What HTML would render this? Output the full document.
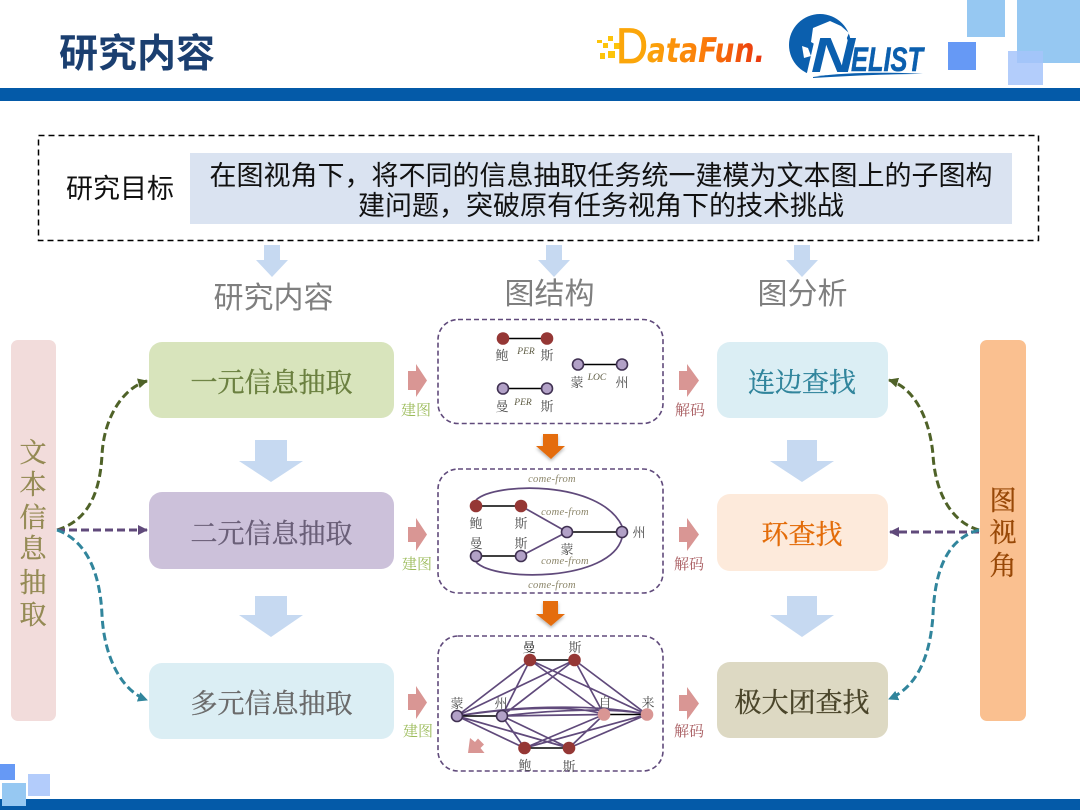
<!DOCTYPE html>
<html lang="zh"><head><meta charset="utf-8"><title>研究内容</title>
<style>
html,body{margin:0;padding:0;background:#fff;width:1080px;height:810px;overflow:hidden}
svg{display:block}
.s{font-family:"Liberation Sans","Noto Sans CJK SC",sans-serif}
.l{font-family:"Liberation Serif","Noto Serif CJK SC",serif;font-size:13px;fill:#4d4d4d;text-anchor:middle}
.i{font-family:"Liberation Serif",serif;font-style:italic;font-size:9.500px;fill:#5c5a42;text-anchor:middle}
.c{font-family:"Liberation Serif",serif;font-style:italic;font-size:10.500px;fill:#8a8468;text-anchor:middle;letter-spacing:.3px}
.b{font-family:"Liberation Serif","Noto Serif CJK SC",serif;font-size:27px;text-anchor:middle;stroke-width:.35}
.sm{font-family:"Liberation Serif","Noto Serif CJK SC",serif;font-size:15px;text-anchor:middle}
.box{fill:#fff;stroke:#604a7b;stroke-width:1.600;stroke-dasharray:5 3}
.r{fill:#953735}.p{fill:#b2a1c7;stroke:#403152;stroke-width:1.600}.k{fill:#d99694}
.e{stroke:#604a7b;stroke-width:1.700;fill:none}.bl{stroke:#000;stroke-width:1.600;fill:none}
</style></head><body>
<svg width="1080" height="810" viewBox="0 0 1080 810" xmlns="http://www.w3.org/2000/svg">
<defs>
<linearGradient id="df" x1="0" x2="1" y1="0" y2="0"><stop offset="0" stop-color="#fba60a"/><stop offset=".5" stop-color="#fb7a0a"/><stop offset="1" stop-color="#e8330f"/></linearGradient>
<filter id="sh" x="-30%" y="-30%" width="160%" height="170%"><feDropShadow dx="0" dy="2" stdDeviation="1.500" flood-color="#000" flood-opacity=".3"/></filter>
<marker id="mg" viewBox="0 0 10 10" refX="9" refY="5" markerWidth="10" markerHeight="10" markerUnits="userSpaceOnUse" orient="auto"><path d="M0,0L10,5L0,10z" fill="#4f6228"/></marker>
<marker id="mp" viewBox="0 0 10 10" refX="9" refY="5" markerWidth="10" markerHeight="10" markerUnits="userSpaceOnUse" orient="auto"><path d="M0,0L10,5L0,10z" fill="#604a7b"/></marker>
<marker id="mt" viewBox="0 0 10 10" refX="9" refY="5" markerWidth="10" markerHeight="10" markerUnits="userSpaceOnUse" orient="auto"><path d="M0,0L10,5L0,10z" fill="#31859c"/></marker>
</defs>

<!-- header -->
<rect x="967" y="0" width="38" height="37" fill="#96c8f2"/>
<rect x="1017" y="0" width="63" height="63" fill="#96c8f2"/>
<rect x="948" y="42" width="28" height="28" fill="#6699f5"/>
<rect x="1008" y="51" width="35" height="34" fill="#a6c4fa" fill-opacity=".85"/>
<rect x="0" y="88" width="1080" height="13" fill="#045aa8"/>
<text x="59" y="67" class="s" font-size="39" font-weight="700" fill="#1b3f70">研究内容</text>

<!-- DataFun logo -->
<g fill="#fdc40a">
<rect x="597" y="40" width="5" height="3"/><rect x="608" y="36" width="5" height="5"/><rect x="603" y="43" width="5" height="5"/>
<rect x="614" y="43" width="7" height="6"/><rect x="600" y="53" width="5" height="6"/><rect x="608" y="51" width="7" height="7"/>
</g>
<text x="616" y="63" font-family="Liberation Sans,sans-serif" font-size="50" fill="#fba60a" stroke="#fba60a" stroke-width=".8" textLength="32" lengthAdjust="spacingAndGlyphs">D</text>
<text x="647" y="62" font-family="DejaVu Sans,sans-serif" font-weight="700" font-style="italic" font-size="34" fill="url(#df)" textLength="118" lengthAdjust="spacingAndGlyphs">ataFun.</text>

<!-- NELIST logo -->
<circle cx="820" cy="45" r="31" fill="#0b5fae"/>
<path d="M813,28L830,21L841,26L849,33L846,40L825,40L818,46L811,42zM802,46L808,48L811,56L804,58z" fill="#fff"/>
<path d="M806,77L815,38L846,36L850,46L925,45L920,72L840,74z" fill="#fff"/>
<text x="811" y="72" font-family="Liberation Sans,sans-serif" font-weight="700" font-style="italic" font-size="49" fill="#0b5fae" textLength="44" lengthAdjust="spacingAndGlyphs">N</text>
<text x="851" y="71" font-family="Liberation Sans,sans-serif" font-weight="700" font-style="italic" font-size="34" fill="#0b5fae" stroke="#0b5fae" stroke-width=".5" textLength="72" lengthAdjust="spacingAndGlyphs">ELIST</text>
<path d="M813,77C845,72 890,72 923,74C890,74 845,76 813,78z" fill="#0b5fae"/>

<!-- footer -->
<rect x="0" y="799" width="1080" height="11" fill="#045aa8"/>
<rect x="0" y="764" width="15" height="16" fill="#6699f5"/>
<rect x="28" y="774" width="22" height="22" fill="#b3ccfb"/>
<rect x="2" y="783" width="24" height="23" fill="#96c8f2"/>

<!-- goal -->
<rect x="38.500" y="135.500" width="1000" height="105" fill="#fff" stroke="#000" stroke-width="1.500" stroke-dasharray="6 4"/>
<rect x="190" y="153" width="822" height="71" fill="#dae3f1"/>
<text x="120" y="198" class="s" font-size="27" fill="#111" text-anchor="middle">研究目标</text>
<text x="601" y="185" class="s" font-size="27" fill="#111" text-anchor="middle">在图视角下，将不同的信息抽取任务统一建模为文本图上的子图构</text>
<text x="601" y="215" class="s" font-size="27" fill="#111" text-anchor="middle">建问题，突破原有任务视角下的技术挑战</text>

<!-- down arrows -->
<g fill="#c6d9f1">
<path d="M264,245H280V260H288L272,277L256,260H264z"/>
<path d="M546,245H562V260H570L554,277L538,260H546z"/>
<path d="M794,245H810V260H818L802,277L786,260H794z"/>
<path d="M255,440H287V461H303L271,482L239,461H255z"/>
<path d="M255,596H287V615H303L271,637L239,615H255z"/>
<path d="M787,440H817V461H834L802,482L770,461H787z"/>
<path d="M787,596H817V615H834L802,637L770,615H787z"/>
</g>

<!-- column headers -->
<g class="s" font-size="30" fill="#7f7f7f" text-anchor="middle">
<text x="273.500" y="308">研究内容</text>
<text x="549.500" y="304">图结构</text>
<text x="802.500" y="304">图分析</text>
</g>

<!-- side bars -->
<rect x="11" y="340" width="45" height="381" rx="7" fill="#f2dcdb"/>
<rect x="980" y="340" width="46" height="381" rx="7" fill="#fac090"/>
<g class="b" fill="#948a54" stroke="#948a54">
<text x="33" y="462">文</text><text x="33" y="494">本</text><text x="33" y="527">信</text><text x="33" y="558">息</text><text x="33" y="592">抽</text><text x="33" y="624">取</text>
</g>
<g class="b" fill="#984807" stroke="#984807">
<text x="1003" y="510">图</text><text x="1003" y="542">视</text><text x="1003" y="575">角</text>
</g>

<!-- left column -->
<rect x="149" y="342" width="245" height="76" rx="13" fill="#d8e4bc"/>
<rect x="149" y="492" width="245" height="77" rx="13" fill="#ccc1da"/>
<rect x="149" y="663" width="245" height="76" rx="13" fill="#dbeef4"/>
<text x="271.500" y="392" class="b" fill="#6b8040" stroke="#6b8040">一元信息抽取</text>
<text x="271.500" y="543" class="b" fill="#6a5f78" stroke="#6a5f78">二元信息抽取</text>
<text x="271.500" y="713" class="b" fill="#6a6a6a" stroke="#6a6a6a">多元信息抽取</text>

<!-- right column -->
<rect x="717" y="342" width="171" height="76" rx="13" fill="#dbeef4"/>
<rect x="717" y="494" width="171" height="77" rx="13" fill="#fdeadb"/>
<rect x="717" y="662" width="171" height="76" rx="13" fill="#ddd9c3"/>
<text x="802" y="392" class="b" fill="#31859c" stroke="#31859c">连边查找</text>
<text x="802" y="544" class="b" fill="#e36c09" stroke="#e36c09">环查找</text>
<text x="802" y="712" class="b" fill="#4a452a" stroke="#4a452a">极大团查找</text>

<!-- pink arrows + labels -->
<g fill="#d99694">
<path d="M408,371H416V364L427,380.500L416,397V390H408z"/>
<path d="M408,527H416V518L427,534.500L416,551V542H408z"/>
<path d="M408,694H416V686L427,702.500L416,719V710H408z"/>
<path d="M679,371H687V364L699,380.500L687,397V390H679z"/>
<path d="M679,527H687V518L699,534.500L687,551V542H679z"/>
<path d="M679,695H687V687L699,703.500L687,720V711H679z"/>
</g>
<g class="sm" fill="#9bbb59"><text x="416" y="415">建图</text><text x="417" y="569">建图</text><text x="418" y="736">建图</text></g>
<g class="sm" fill="#a5565a"><text x="690" y="415">解码</text><text x="689" y="569">解码</text><text x="689" y="736">解码</text></g>

<!-- dashed connectors -->
<g fill="none" stroke-width="3" stroke-dasharray="8 4">
<path d="M57,530C90,520 100,490 102,455C104,415 125,387 147,381" stroke="#4f6228" marker-end="url(#mg)"/>
<path d="M57,530H147" stroke="#604a7b" marker-end="url(#mp)"/>
<path d="M57,530C85,540 100,570 102,615C104,655 120,690 147,700" stroke="#31859c" marker-end="url(#mt)"/>
<path d="M979,530C950,522 935,490 933,455C930,420 915,388 889,380" stroke="#4f6228" marker-end="url(#mg)"/>
<path d="M979,532H890" stroke="#604a7b" marker-end="url(#mp)"/>
<path d="M979,530C950,538 935,565 933,615C930,660 915,688 889,699" stroke="#31859c" marker-end="url(#mt)"/>
</g>

<!-- graph boxes -->
<rect x="438" y="319.500" width="225" height="104" rx="20" class="box"/>
<rect x="438" y="469" width="225" height="124" rx="20" class="box"/>
<rect x="438" y="636" width="225" height="135" rx="20" class="box"/>

<!-- orange arrows -->
<g fill="#e46c0a" filter="url(#sh)">
<path d="M543,434H558V446H565L551,459L536,446H543z"/>
<path d="M543,601H558V614H565L551,626L536,614H543z"/>
</g>

<!-- graph 1 -->
<path class="bl" d="M503,338.500H547M503,388.500H547M578,364.500H622"/>
<circle cx="503" cy="338.500" r="6.300" class="r"/><circle cx="547" cy="338.500" r="6.300" class="r"/>
<circle cx="503" cy="388.500" r="5.500" class="p"/><circle cx="547" cy="388.500" r="5.500" class="p"/>
<circle cx="578" cy="364.500" r="5.500" class="p"/><circle cx="622" cy="364.500" r="5.500" class="p"/>
<text class="l" x="502" y="360">鲍</text><text class="l" x="547" y="360">斯</text>
<text class="l" x="502" y="411">曼</text><text class="l" x="547" y="411">斯</text>
<text class="l" x="577" y="387">蒙</text><text class="l" x="622" y="387">州</text>
<text class="i" x="526" y="354">PER</text><text class="i" x="523" y="405">PER</text><text class="i" x="597" y="380">LOC</text>

<!-- graph 2 -->
<path class="e" d="M476,500C495,482 600,480 622,526M476,562C495,582 610,582 622,538M521,506L567,532M521,556L567,532"/>
<path class="bl" d="M476,506H521M476,556H521M567,532H622"/>
<circle cx="476" cy="506" r="6.300" class="r"/><circle cx="521" cy="506" r="6.300" class="r"/>
<circle cx="476" cy="556" r="5.500" class="p"/><circle cx="521" cy="556" r="5.500" class="p"/>
<circle cx="567" cy="532" r="5.500" class="p"/><circle cx="622" cy="532" r="5.500" class="p"/>
<text class="l" x="476" y="528">鲍</text><text class="l" x="521" y="528">斯</text>
<text class="l" x="476" y="548">曼</text><text class="l" x="521" y="548">斯</text>
<text class="l" x="567" y="554">蒙</text><text class="l" x="639" y="537">州</text>
<text class="c" x="552" y="482">come-from</text><text class="c" x="565" y="515">come-from</text>
<text class="c" x="565" y="564">come-from</text><text class="c" x="552" y="588">come-from</text>

<!-- graph 3 -->
<path class="e" d="M530,660L457,716M530,660L502,716M530,660L604,714.500M530,660L647,714.500
M574.500,660L457,716M574.500,660L502,716M574.500,660L604,714.500M574.500,660L647,714.500
M457,716C520,706 580,706 604,714.500M457,716C530,703 610,706 647,714.500M502,716L604,714.500M502,716C560,709 620,708 647,714.500
M457,716L524.500,748M457,716L569,748M502,716L524.500,748M502,716L569,748
M604,714.500L524.500,748M604,714.500L569,748M647,714.500L524.500,748M647,714.500L569,748"/>
<path class="bl" d="M530,660H574.500M457,716H502M604,714.500H647M524.500,748H569"/>
<circle cx="530" cy="660" r="6.300" class="r"/><circle cx="574.500" cy="660" r="6.300" class="r"/>
<circle cx="457" cy="716" r="5.500" class="p"/><circle cx="502" cy="716" r="5.500" class="p"/>
<circle cx="604" cy="714.500" r="6.300" class="k"/><circle cx="647" cy="714.500" r="6.300" class="k"/>
<circle cx="524.500" cy="748" r="6.300" class="r"/><circle cx="569" cy="748" r="6.300" class="r"/>
<text class="l" x="529" y="652" style="fill:#222">曼</text><text class="l" x="575" y="652">斯</text>
<text class="l" x="457" y="708">蒙</text><text class="l" x="501" y="708">州</text>
<text class="l" x="605" y="707">自</text><text class="l" x="648" y="707">来</text>
<text class="l" x="525" y="770">鲍</text><text class="l" x="569" y="771">斯</text>
<path d="M468,753L470,738L475,742L478,738.500L484,744.500L480.500,748L484.500,753z" fill="#d99694"/>
</svg>
</body></html>
